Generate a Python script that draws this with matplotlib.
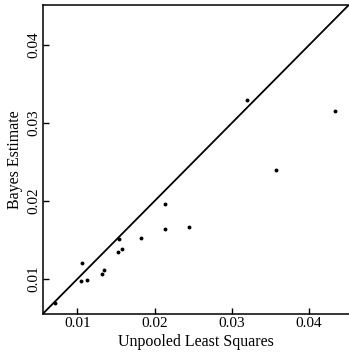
import numpy as np
import matplotlib
matplotlib.use("Agg")
import matplotlib.pyplot as plt

plt.rcParams['font.family'] = ['Liberation Serif', 'DejaVu Serif']

# Unpooled least squares vs Bayes estimate
unpooled = [0.0071, 0.0106, 0.0104, 0.0113, 0.0132, 0.0134, 0.0152, 0.0158,
            0.0154, 0.0182, 0.0214, 0.0214, 0.0245, 0.0320, 0.0357, 0.0434]
bayes = [0.0069, 0.0120, 0.0097, 0.0099, 0.0106, 0.0112, 0.0135, 0.0139,
         0.0151, 0.0152, 0.0196, 0.0164, 0.0166, 0.0330, 0.0240, 0.0315]

lims = [0.0055, 0.0452]
ticks = [0.01, 0.02, 0.03, 0.04]

fig = plt.figure(figsize=(3.49, 3.58), dpi=100)
ax = fig.add_axes([0.1223, 0.123, 0.878, 0.864])

ax.plot(lims, lims, color="black", lw=1.3)
ax.plot(unpooled, bayes, 'o', color="black", markersize=2.8, markeredgewidth=0)

ax.set_xlim(lims)
ax.set_ylim(lims)
ax.set_xticks(ticks)
ax.set_yticks(ticks)
ax.set_xticklabels([f"{t:.2f}" for t in ticks])
ax.set_yticklabels([f"{t:.2f}" for t in ticks], rotation=90, va="center")
ax.tick_params(direction="in", length=4, width=1, labelsize=11, pad=2)
ax.spines['right'].set_visible(False)
for s in ['left', 'top', 'bottom']:
    ax.spines[s].set_linewidth(1.1)

ax.set_xlabel("Unpooled Least Squares", fontsize=11.5, labelpad=3)
ax.set_ylabel("Bayes Estimate", fontsize=11.5, labelpad=3)

fig.savefig("out.png", dpi=100)
plt.close()
